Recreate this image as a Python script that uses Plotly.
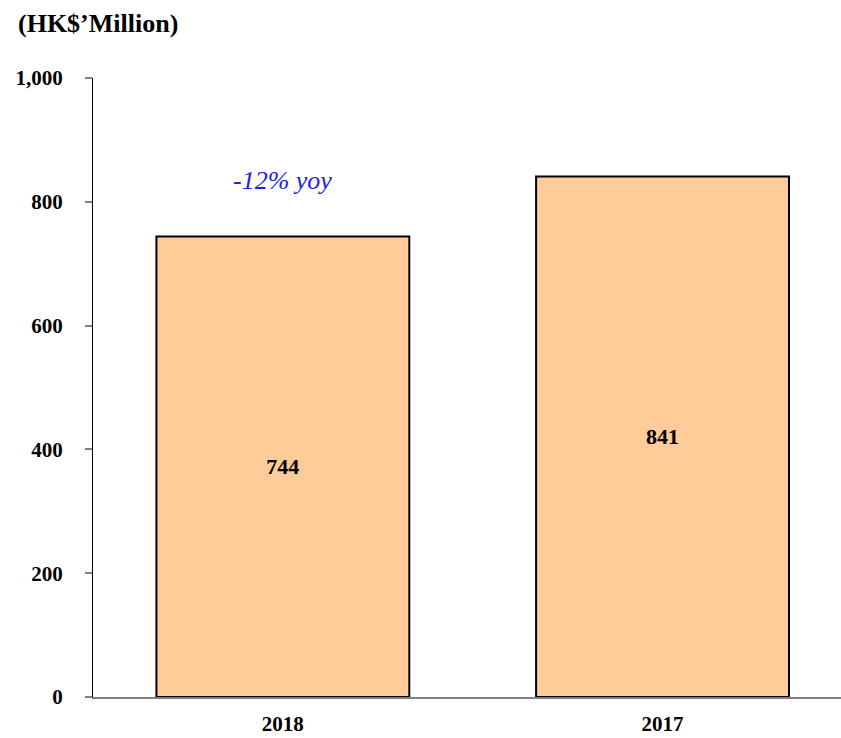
import plotly.graph_objects as go

categories = ["2018", "2017"]
values = [744, 841]
value_labels = ["744", "841"]
yoy_text = "-12% yoy"
y_ticks = [0, 200, 400, 600, 800, 1000]
y_tick_labels = ["0", "200", "400", "600", "800", "1,000"]

FONT = "Liberation Serif"

fig = go.Figure()
fig.add_trace(go.Bar(
    x=categories, y=values,
    width=0.666,
    marker=dict(color="#FFCB98", line=dict(color="black", width=2)),
    text=value_labels, textposition="inside", insidetextanchor="middle",
    textfont=dict(family=FONT, size=22, color="black", weight="bold"),
    cliponaxis=False,
))

fig.add_annotation(
    x=0, y=835, xref="x", yref="y", text=yoy_text, showarrow=False,
    font=dict(family=FONT, size=26, color="#2020E8", style="italic"),
    xanchor="center", yanchor="middle",
)

fig.update_layout(
    width=841, height=738,
    margin=dict(l=93, r=0, t=78, b=41),
    paper_bgcolor="white", plot_bgcolor="white",
    showlegend=False,
    title=dict(text="(HK$’Million)", x=18/841, y=1-23/738, xref="container", yref="container",
               xanchor="left", yanchor="middle",
               font=dict(family=FONT, size=26, color="black", weight="bold")),
    xaxis=dict(
        range=[-0.5, 1.47], showgrid=False, zeroline=False,
        showline=True, linecolor="#808080", linewidth=2,
        ticks="", tickfont=dict(family=FONT, size=21, color="black", weight="bold"),
        ticklabelstandoff=7,
    ),
    yaxis=dict(
        range=[0, 1000], tickvals=y_ticks, ticktext=y_tick_labels,
        showgrid=False, zeroline=False,
        showline=True, linecolor="black", linewidth=1,
        ticks="outside", ticklen=7, tickcolor="#808080", tickwidth=2,
        tickfont=dict(family=FONT, size=21, color="black", weight="bold"),
        ticklabelstandoff=18,
    ),
)

fig.write_html("out.html")
